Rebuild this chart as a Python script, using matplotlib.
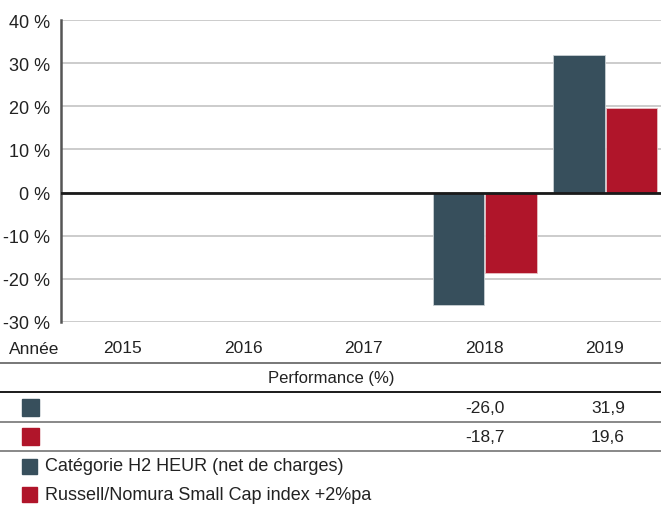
import numpy as np
import matplotlib.pyplot as plt
import matplotlib.transforms as mtransforms
from matplotlib.patches import Rectangle
from matplotlib.lines import Line2D

plt.rcParams['font.family'] = ['Liberation Sans', 'DejaVu Sans']

years = ['2015', '2016', '2017', '2018', '2019']
fund = [np.nan, np.nan, np.nan, -26.0, 31.9]
index = [np.nan, np.nan, np.nan, -18.7, 19.6]
fund_name = 'Catégorie H2 HEUR (net de charges)'
index_name = 'Russell/Nomura Small Cap index +2%pa'
yticks = [-30, -20, -10, 0, 10, 20, 30, 40]

dark = '#374f5c'
red = '#b0152a'

def fmt(v):
    if np.isnan(v):
        return ''
    return f'{v:.1f}'.replace('.', ',')

fig = plt.figure(figsize=(6.61, 5.06), dpi=100)
ax = fig.add_axes([61 / 661, 1 - 323 / 506, 600 / 661, 302 / 506])

x = np.arange(len(years))
w = 0.428
ax.bar(x - w / 2, fund, w, color=dark, edgecolor='#c9d0d4', linewidth=0.6, zorder=3)
ax.bar(x + w / 2 + 0.005, index, w, color=red, edgecolor='#e8c0c4', linewidth=0.6, zorder=3)

ax.set_xlim(-0.512, 4.465)
ax.set_ylim(-30, 40)
ax.set_yticks(yticks)
ax.set_yticklabels([f'{t} %' for t in yticks], fontsize=13, color='#222222')
ax.tick_params(axis='y', length=0, pad=8)
ax.set_xticks(x)
ax.set_xticklabels(years, fontsize=12.5, color='#222222')
ax.tick_params(axis='x', length=0, pad=13)
ax.grid(axis='y', color='#cccccc', linewidth=1.4, zorder=0)
ax.axhline(0, color='#1a1a1a', linewidth=2, zorder=4)
for s in ['top', 'right', 'bottom']:
    ax.spines[s].set_visible(False)
ax.spines['left'].set_color('#555555')
ax.spines['left'].set_linewidth(1.8)

fig.text(9 / 661, 1 - 350 / 506, 'Année', fontsize=12.5, va='center', ha='left', color='#222222')

# table below the chart
tr = mtransforms.blended_transform_factory(ax.transData, fig.transFigure)

def hline(y, color, lw):
    fig.add_artist(Line2D([0, 1], [1 - y / 506, 1 - y / 506], color=color, linewidth=lw,
                          transform=fig.transFigure))

hline(364, '#777777', 1.4)
fig.text(331 / 661, 1 - 379 / 506, 'Performance (%)', fontsize=12, ha='center', va='center', color='#222222')
hline(393, '#1a1a1a', 1.4)
hline(423, '#888888', 1.4)
hline(452, '#888888', 1.4)

for i in range(len(years)):
    fig.text(i + 0.165, 1 - 409 / 506, fmt(fund[i]), transform=tr, fontsize=12.5, ha='right', va='center', color='#222222')
    fig.text(i + 0.165, 1 - 438 / 506, fmt(index[i]), transform=tr, fontsize=12.5, ha='right', va='center', color='#222222')

def square(y, color, s):
    fig.add_artist(Rectangle((22 / 661, 1 - (y + s / 2) / 506), s / 661, s / 506,
                             color=color, transform=fig.transFigure))

square(408, dark, 17)
square(437.5, red, 17)
square(467.5, dark, 15)
square(495.5, red, 15)
fig.text(45 / 661, 1 - 467 / 506, fund_name, fontsize=13, ha='left', va='center', color='#222222')
fig.text(45 / 661, 1 - 495.5 / 506, index_name, fontsize=13, ha='left', va='center', color='#222222')

fig.savefig('out.png', dpi=100)
